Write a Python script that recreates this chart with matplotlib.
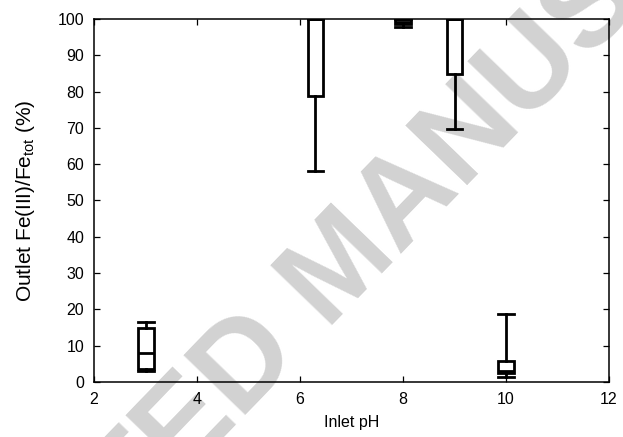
import matplotlib
matplotlib.use("Agg")
import matplotlib.pyplot as plt

plt.rcParams['font.family'] = ['Liberation Sans', 'DejaVu Sans']
plt.rcParams['mathtext.default'] = 'regular'

# Data
ph_positions = [3.0, 6.3, 8.0, 9.0, 10.0]
whisker_low = [2.9, 58.0, 97.8, 69.6, 1.4]
q1 = [3.6, 78.8, 98.5, 84.8, 2.5]
medians = [8.0, 100.0, 99.3, 100.0, 2.9]
q3 = [14.9, 100.0, 100.0, 100.0, 5.9]
whisker_high = [16.6, 100.0, 100.0, 100.0, 18.6]

x_ticks = [2, 4, 6, 8, 10, 12]
y_ticks = [0, 10, 20, 30, 40, 50, 60, 70, 80, 90, 100]

fig = plt.figure(figsize=(6.23, 4.37), dpi=100)
ax = fig.add_axes([0.151, 0.126, 0.8265, 0.8305])
ax.set_zorder(1)
ax.set_facecolor('none')

# watermark (behind the plot)
fig.text(0.55, 0.385, "ACCEPTED MANUSCRIPT", fontsize=90, fontweight='bold',
         color='#d2d2d2', rotation=46, ha='center', va='center', zorder=-1)

stats = []
for i in range(len(ph_positions)):
    stats.append(dict(med=medians[i], q1=q1[i], q3=q3[i],
                      whislo=whisker_low[i], whishi=whisker_high[i], fliers=[]))

lw = 2.0
ax.bxp(stats, positions=ph_positions, widths=0.31, showfliers=False,
       patch_artist=True,
       boxprops=dict(facecolor='white', edgecolor='black', linewidth=lw),
       medianprops=dict(color='black', linewidth=lw),
       whiskerprops=dict(color='black', linewidth=lw),
       capprops=dict(color='black', linewidth=lw),
       capwidths=0.31, manage_ticks=False)

ax.set_xlim(2, 12)
ax.set_ylim(0, 100)
ax.set_xticks(x_ticks)
ax.set_yticks(y_ticks)
ax.tick_params(direction='in', length=4.3, width=0.9, top=True, right=True,
               labelsize=11.5, pad=7)
for s in ax.spines.values():
    s.set_linewidth(1.1)

ax.set_xlabel("Inlet pH", fontsize=11.5, labelpad=6)
ax.set_ylabel("Outlet Fe(III)/Fe$_{tot}$ (%)", fontsize=15, labelpad=15)

fig.savefig("out.png", dpi=100)
